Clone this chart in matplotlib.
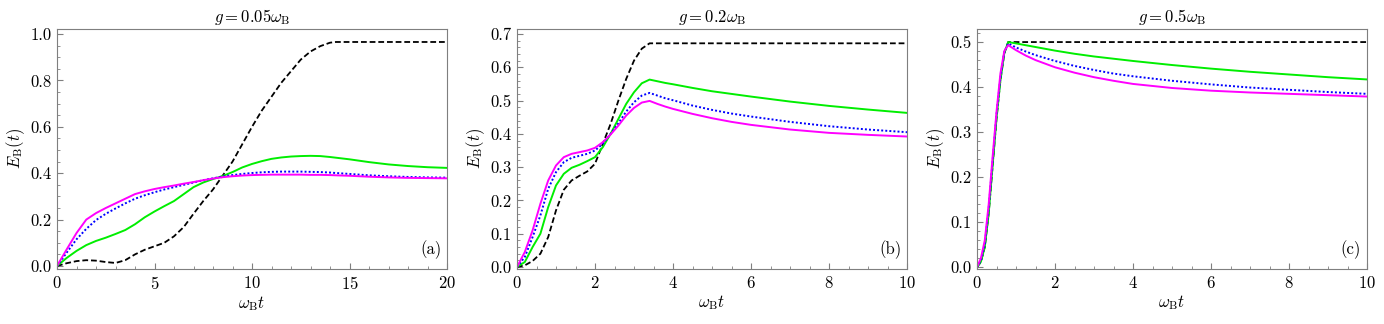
import matplotlib
matplotlib.use("Agg")
import matplotlib.pyplot as plt
from matplotlib.ticker import MultipleLocator

plt.rcParams["font.family"] = "cmr10"
plt.rcParams["mathtext.fontset"] = "cm"
plt.rcParams["axes.formatter.use_mathtext"] = True

# panel (a): g = 0.05 wB
t_a = [0, 0.5, 1, 1.5, 2, 2.5, 3, 3.5, 4, 4.5, 5, 5.5, 6, 6.5, 7, 7.5, 8, 8.5,
       9, 9.5, 10, 10.5, 11, 11.5, 12, 12.5, 13, 13.5, 14, 14.3, 15, 16, 17, 18, 19, 20]
black_a = [0, 0.012, 0.021, 0.025, 0.023, 0.017, 0.013, 0.025, 0.05, 0.07, 0.085, 0.10,
           0.128, 0.168, 0.225, 0.28, 0.33, 0.39, 0.45, 0.525, 0.6, 0.67, 0.73, 0.79,
           0.84, 0.89, 0.925, 0.948, 0.963, 0.966, 0.966, 0.966, 0.966, 0.966, 0.966, 0.966]
green_a = [0, 0.035, 0.065, 0.09, 0.108, 0.122, 0.138, 0.155, 0.18, 0.21, 0.235, 0.258,
           0.28, 0.31, 0.34, 0.36, 0.375, 0.388, 0.405, 0.425, 0.44, 0.452, 0.462, 0.468,
           0.472, 0.474, 0.475, 0.474, 0.47, 0.467, 0.46, 0.448, 0.438, 0.431, 0.426, 0.423]
blue_a = [0, 0.058, 0.115, 0.16, 0.198, 0.225, 0.248, 0.27, 0.29, 0.305, 0.318, 0.33,
          0.34, 0.35, 0.36, 0.37, 0.378, 0.386, 0.392, 0.397, 0.401, 0.404, 0.406, 0.407,
          0.407, 0.407, 0.406, 0.405, 0.403, 0.401, 0.397, 0.391, 0.387, 0.384, 0.382, 0.381]
magenta_a = [0, 0.072, 0.142, 0.2, 0.228, 0.25, 0.27, 0.29, 0.31, 0.322, 0.332, 0.34,
             0.347, 0.355, 0.362, 0.37, 0.377, 0.383, 0.387, 0.39, 0.392, 0.393, 0.394, 0.394,
             0.394, 0.394, 0.393, 0.393, 0.392, 0.391, 0.389, 0.385, 0.382, 0.38, 0.379, 0.378]

# panel (b): g = 0.2 wB
t_b = [0, 0.2, 0.4, 0.6, 0.8, 1.0, 1.2, 1.4, 1.6, 1.8, 2.0, 2.2, 2.4, 2.6, 2.8, 3.0,
       3.2, 3.4, 3.6, 3.8, 4, 4.5, 5, 5.5, 6, 7, 8, 9, 10]
black_b = [0, 0.005, 0.018, 0.04, 0.09, 0.17, 0.232, 0.26, 0.274, 0.287, 0.31, 0.37,
           0.43, 0.50, 0.565, 0.62, 0.656, 0.672, 0.672, 0.672, 0.672, 0.672, 0.672,
           0.672, 0.672, 0.672, 0.672, 0.672, 0.672]
green_b = [0, 0.015, 0.06, 0.10, 0.18, 0.245, 0.28, 0.298, 0.307, 0.318, 0.33, 0.36,
           0.40, 0.445, 0.49, 0.525, 0.552, 0.563, 0.558, 0.553, 0.549, 0.538, 0.528,
           0.52, 0.512, 0.497, 0.484, 0.473, 0.463]
blue_b = [0, 0.03, 0.09, 0.155, 0.235, 0.285, 0.315, 0.328, 0.334, 0.34, 0.35, 0.37,
          0.40, 0.432, 0.467, 0.495, 0.515, 0.523, 0.515, 0.507, 0.501, 0.485, 0.472,
          0.461, 0.452, 0.436, 0.423, 0.413, 0.405]
magenta_b = [0, 0.045, 0.11, 0.19, 0.26, 0.305, 0.33, 0.34, 0.345, 0.35, 0.358, 0.375,
             0.398, 0.425, 0.455, 0.478, 0.494, 0.499, 0.49, 0.482, 0.475, 0.46, 0.447,
             0.436, 0.427, 0.413, 0.403, 0.397, 0.392]

# panel (c): g = 0.5 wB
t_c = [0, 0.1, 0.2, 0.3, 0.4, 0.5, 0.6, 0.7, 0.8, 1.0, 1.25, 1.5, 2, 2.5, 3, 3.5, 4,
       5, 6, 7, 8, 9, 10]
black_c = [0, 0.012, 0.045, 0.12, 0.225, 0.33, 0.415, 0.475, 0.5, 0.5, 0.5, 0.5, 0.5,
           0.5, 0.5, 0.5, 0.5, 0.5, 0.5, 0.5, 0.5, 0.5, 0.5]
green_c = [0, 0.012, 0.045, 0.12, 0.225, 0.33, 0.415, 0.476, 0.5, 0.497, 0.493, 0.489,
           0.481, 0.474, 0.468, 0.463, 0.458, 0.449, 0.441, 0.434, 0.428, 0.422, 0.417]
blue_c = [0, 0.015, 0.05, 0.13, 0.235, 0.338, 0.42, 0.477, 0.497, 0.488, 0.479, 0.471,
          0.458, 0.447, 0.438, 0.43, 0.424, 0.414, 0.406, 0.399, 0.394, 0.389, 0.385]
magenta_c = [0, 0.02, 0.06, 0.14, 0.245, 0.345, 0.43, 0.48, 0.493, 0.482, 0.47, 0.46,
             0.444, 0.432, 0.422, 0.414, 0.407, 0.398, 0.392, 0.388, 0.385, 0.382, 0.379]

panels = [
    (t_a, black_a, green_a, blue_a, magenta_a, r"$g=0.05\omega_{\rm B}$", "(a)",
     (0, 20), (-0.013, 1.022), 5, 1, 0.2, 0.05),
    (t_b, black_b, green_b, blue_b, magenta_b, r"$g=0.2\omega_{\rm B}$", "(b)",
     (0, 10), (-0.006, 0.715), 2, 0.5, 0.1, 0.02),
    (t_c, black_c, green_c, blue_c, magenta_c, r"$g=0.5\omega_{\rm B}$", "(c)",
     (0, 10), (-0.004, 0.529), 2, 0.5, 0.1, 0.02),
]

fig = plt.figure(figsize=(13.84, 3.24), dpi=100)
lefts = [57, 517, 977]
frame = "#7f7f7f"

for left, p in zip(lefts, panels):
    t, bk, gr, bl, mg, title, tag, xl, yl, xmaj, xmin, ymaj, ymin = p
    ax = fig.add_axes([left / 1384, 55 / 324, 390 / 1384, 240 / 324])
    ax.plot(t, bk, color="black", lw=1.3, dashes=(3.2, 1.6))
    ax.plot(t, gr, color="#00ee00", lw=1.4)
    ax.plot(t, bl, color="#0000ff", lw=1.4, dashes=(1, 1.1))
    ax.plot(t, mg, color="#ff00ff", lw=1.4)
    ax.set_xlim(*xl)
    ax.set_ylim(*yl)
    ax.xaxis.set_major_locator(MultipleLocator(xmaj))
    ax.xaxis.set_minor_locator(MultipleLocator(xmin))
    ax.yaxis.set_major_locator(MultipleLocator(ymaj))
    ax.yaxis.set_minor_locator(MultipleLocator(ymin))
    ax.yaxis.set_major_formatter(plt.FormatStrFormatter("%.1f"))
    ax.tick_params(which="both", direction="in", color=frame, labelsize=12,
                   top=False, right=False, pad=4)
    ax.tick_params(which="major", length=4, width=0.8)
    ax.tick_params(which="minor", length=2, width=0.6)
    for s in ax.spines.values():
        s.set_color(frame)
        s.set_linewidth(0.8)
    ax.set_title(title, fontsize=12, pad=5)
    ax.set_xlabel(r"$\omega_{\rm B}t$", fontsize=12, labelpad=2)
    ax.set_ylabel(r"$E_{\rm B}(t)$", fontsize=12, labelpad=2)
    ax.text(0.985, 0.04, tag, transform=ax.transAxes, ha="right", va="bottom",
            fontsize=12)

fig.savefig("out.png", dpi=100)
